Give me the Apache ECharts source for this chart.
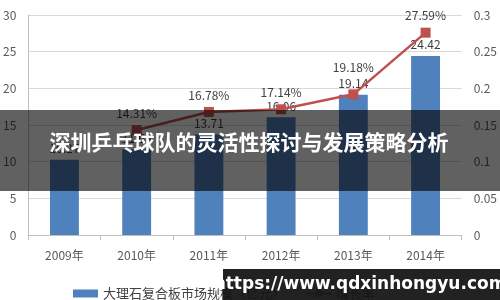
<!DOCTYPE html>
<html>
<head>
<meta charset="utf-8">
<script src="https://cdn.jsdelivr.net/npm/echarts@6/dist/echarts.min.js"></script>
<style>html,body{margin:0;padding:0;background:#fff;}#c{width:500px;height:300px;}</style>
</head>
<body>
<div id="c"></div>
<script>
var categories = ['2009年', '2010年', '2011年', '2012年', '2013年', '2014年'];
var marketSize = [10.27, 11.65, 13.71, 16.06, 19.14, 24.42];
var growthRate = [null, 0.1431, 0.1678, 0.1714, 0.1918, 0.2759];
var leftTicks = {min: 0, max: 30, interval: 5};
var rightTicks = {min: 0, max: 0.3, interval: 0.05};
var barName = '大理石复合板市场规模（亿元）';
var lineName = '增长率';
var titleText = '深圳乒乓球队的灵活性探讨与发展策略分析';
var watermarkText = 'https://www.qdxinhongyu.com';

var font = '"Noto Sans CJK SC", "Noto Sans", sans-serif';
var lineData = growthRate.map(function (v, i) {
  var item = {value: v};
  if (i === 4) item.label = {distance: 16};
  return item;
});
var chart = echarts.init(document.getElementById('c'), null, {renderer: 'canvas'});
chart.setOption({
  animation: false,
  textStyle: {fontFamily: font},
  grid: {left: 25, right: 37, top: 15, bottom: 65},
  legend: {
    left: 68, top: 282, itemWidth: 25, itemHeight: 8, itemGap: 20,
    textStyle: {fontSize: 13, color: '#404040', fontFamily: font},
    data: [{name: barName, icon: 'rect'}, {name: lineName}]
  },
  xAxis: {
    type: 'category', data: categories,
    axisLine: {lineStyle: {color: '#bfbfbf'}},
    axisTick: {show: true, alignWithLabel: false, lineStyle: {color: '#bfbfbf'}},
    axisLabel: {color: '#595959', fontSize: 12, margin: 14, fontFamily: font}
  },
  yAxis: [{
    type: 'value', min: leftTicks.min, max: leftTicks.max, interval: leftTicks.interval,
    axisLine: {show: true, lineStyle: {color: '#bfbfbf'}},
    axisTick: {show: false},
    axisLabel: {color: '#595959', fontSize: 12, margin: 12, fontFamily: font},
    splitLine: {lineStyle: {color: '#d9d9d9'}}
  }, {
    type: 'value', min: rightTicks.min, max: rightTicks.max, interval: rightTicks.interval,
    axisLine: {show: false}, axisTick: {show: false},
    axisLabel: {color: '#595959', fontSize: 12, margin: 12, fontFamily: font},
    splitLine: {show: false}
  }],
  series: [{
    name: barName, type: 'bar', data: marketSize, barWidth: '40%',
    itemStyle: {color: '#4F81BD'},
    label: {show: true, position: 'top', distance: 5, color: '#404040', fontSize: 12, fontFamily: font}
  }, {
    name: lineName, type: 'line', yAxisIndex: 1, data: lineData,
    symbol: 'rect', symbolSize: 10, showAllSymbol: true,
    lineStyle: {color: '#C0504D', width: 2.5},
    itemStyle: {color: '#C0504D'},
    label: {show: true, position: 'top', distance: 6, color: '#404040', fontSize: 12, fontFamily: font,
      formatter: function (p) { return (p.value * 100).toFixed(2) + '%'; }}
  }],
  graphic: [{
    type: 'rect', z: 100, shape: {x: 0, y: 110, width: 500, height: 81},
    style: {fill: 'rgba(0,0,0,0.62)'}
  }, {
    type: 'text', z: 101, x: 249, y: 142,
    style: {text: titleText, fill: '#ffffff', font: 'bold 21px "Noto Sans CJK SC", sans-serif', align: 'center', verticalAlign: 'middle'}
  }, {
    type: 'rect', z: 100, shape: {x: 223, y: 269, width: 277, height: 31},
    style: {fill: 'rgba(20,20,20,0.94)'}
  }, {
    type: 'text', z: 101, x: 360, y: 285,
    style: {text: watermarkText, fill: '#ffffff', font: 'bold 17px "DejaVu Sans", sans-serif', align: 'center', verticalAlign: 'middle'}
  }]
});
</script>
</body>
</html>
